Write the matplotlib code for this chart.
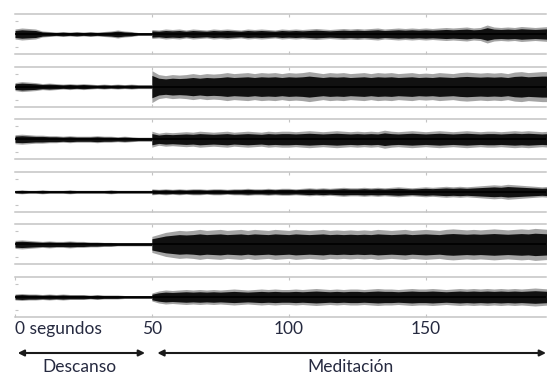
import numpy as np
import matplotlib
matplotlib.use('Agg')
import matplotlib.pyplot as plt

# envelope amplitude of each EEG trace
# rest: t = 0 .. 50 s every 2.5 s, meditation: t = 50 .. 195 s every 2.5 s
t_rest = np.arange(0, 50.1, 2.5)
t_med = np.arange(50, 195.1, 2.5)

rest_1 = [5, 6, 5.5, 5, 3, 2.5, 2, 2.5, 2, 2.5, 2, 2.5, 2, 2.5, 3, 4, 3, 2.5, 1.5, 1.5, 1.5]
med_1 = [4.5, 4, 5, 4.5, 5, 4, 5, 4.5, 4, 5,
         4.5, 5, 4.5, 4, 5, 4.5, 5, 4.5, 4, 5,
         4.5, 5, 4.5, 5, 5.5, 5, 4.5, 5, 5.5, 5,
         5.5, 5, 5.5, 6, 5, 5.5, 6, 5.5, 6, 5.5,
         6, 5.5, 6, 6.5, 6, 6.5, 7, 6, 6.5, 9,
         7, 6.5, 7, 6.5, 7.5, 7, 6.5, 7, 7.5]

rest_2 = [4, 5, 4.5, 4, 3, 3.5, 3, 2.5, 3, 2.5, 3, 2.5, 2, 2.5, 2, 2.5, 2, 2.5, 2, 2, 2]
med_2 = [16, 12, 11, 12, 11.5, 12, 13, 12, 13, 12.5,
         13, 14, 13, 13.5, 14, 13, 14, 13.5, 14, 13,
         14, 13.5, 14, 15, 14, 13, 14, 13.5, 14, 13,
         13.5, 14, 13, 14, 13.5, 14, 13, 13.5, 14, 13,
         13.5, 13, 14, 13.5, 13, 14, 14.5, 14, 13.5, 14,
         13.5, 14, 13, 14.5, 15, 14, 14.5, 15, 15]

rest_3 = [4.5, 5, 4.5, 4, 4, 3.5, 3.5, 3, 3.5, 3, 3, 3, 3.5, 3, 3, 2.5, 3, 2.5, 2, 2, 2]
med_3 = [8, 6, 7, 6.5, 7, 7.5, 7, 8, 7.5, 7,
         7.5, 8, 7, 7.5, 8, 7.5, 7, 8, 7.5, 8,
         8, 7.5, 8, 8.5, 8, 7.5, 8, 8.5, 8, 7.5,
         8, 7.5, 8, 7.5, 9, 8, 7.5, 8, 8.5, 8,
         7.5, 8, 8.5, 8, 7.5, 8, 8.5, 8, 7.5, 8,
         8, 7.5, 8, 8.5, 8, 8.5, 8, 7.5, 8]

rest_4 = [1.5, 2, 1.5, 1.5, 2, 1.5, 1.5, 1.5, 2, 1.5, 1.5, 1.5, 1.5, 1.5, 2, 1.5, 1.5, 1.5, 1.5, 1.5, 1.5]
med_4 = [3, 2.5, 3, 2.5, 3, 2.5, 3, 3, 2.5, 3,
         3, 2.5, 3, 3, 3.5, 3, 3, 3.5, 3, 3.5,
         3.5, 3, 3.5, 4, 3.5, 4, 3.5, 4, 4.5, 4,
         4, 4.5, 4, 4.5, 4, 4.5, 5, 4.5, 4, 4.5,
         5, 4.5, 5, 5.5, 5, 5.5, 5, 5.5, 6, 6.5,
         7, 6.5, 7.5, 7, 6.5, 6, 5.5, 5, 5.5]

rest_5 = [4, 4.5, 4, 3.5, 3, 3.5, 3, 3, 3.5, 3, 3, 2.5, 2.5, 2, 2, 1.5, 1.5, 1.5, 1.5, 1.5, 1.5]
med_5 = [8, 10, 12, 13, 14, 13.5, 14, 15, 14, 14.5,
         15, 14, 14.5, 15, 14, 15, 14.5, 14, 15, 14.5,
         14, 15, 14.5, 14, 14.5, 15, 14, 14.5, 14, 14.5,
         14, 14.5, 14, 15, 14.5, 14, 14.5, 15, 14, 14.5,
         15, 14.5, 14, 15, 15.5, 15, 14.5, 15, 14.5, 15,
         15.5, 15, 14.5, 15, 15.5, 15, 16, 15.5, 15]

rest_6 = [3, 3.5, 3, 3, 2.5, 3, 2.5, 3, 2.5, 2.5, 2.5, 2, 2.5, 2, 2, 2, 1.5, 1.5, 1.5, 1.5, 1.5]
med_6 = [4, 6, 7, 6.5, 7, 7.5, 7, 7.5, 7, 7.5,
         7, 7.5, 8, 7.5, 7, 7.5, 8, 7.5, 8, 7.5,
         7.5, 8, 7.5, 8, 8.5, 8, 7.5, 8, 7.5, 8,
         8, 7.5, 8, 8.5, 8, 8, 7.5, 8, 8.5, 8,
         8, 8.5, 8, 7.5, 8, 8.5, 8, 8.5, 8, 8.5,
         8, 8.5, 8, 8.5, 8, 8.5, 9, 8.5, 8]

traces = [(rest_1, med_1), (rest_2, med_2), (rest_3, med_3),
          (rest_4, med_4), (rest_5, med_5), (rest_6, med_6)]

tick_pos = [0, 50, 100, 150]
tick_lab = ['0 segundos', '50', '100', '150']

plt.rcParams['font.family'] = ['Lato', 'DejaVu Sans']
txt_col = '#262a40'
grey = '#c4c4c4'

W, H = 548, 376
fig = plt.figure(figsize=(W / 100, H / 100), dpi=100)

left, right = 15, 546
axes = []
for i, (r, m) in enumerate(traces):
    top = 14 + 52.6 * i
    ax = fig.add_axes([left / W, 1 - (top + 40) / H, (right - left) / W, 40 / H])
    for tt, amp in ((t_rest, np.array(r)), (t_med, np.array(m))):
        ax.fill_between(tt, -amp, amp, color='#4a4a4a', lw=0, alpha=0.5)
        ax.fill_between(tt, -0.7 * amp, 0.7 * amp, color='#111111', lw=0)
    ax.plot([0, 194], [0, 0], color='black', lw=1.2)
    ax.set_xlim(0, 194)
    ax.set_ylim(-20, 20)
    for s in ('left', 'right'):
        ax.spines[s].set_visible(False)
    for s in ('top', 'bottom'):
        ax.spines[s].set_color(grey)
        ax.spines[s].set_linewidth(1.1)
    ax.set_xticks(tick_pos[1:])
    ax.set_yticks([-13, 13])
    ax.tick_params(axis='both', direction='in', length=2.5, width=0.8,
                   color=grey, top=True, bottom=True, labelleft=False,
                   labelbottom=False)
    axes.append(ax)

ax = axes[-1]
ax.set_xticks(tick_pos)
ax.set_xticklabels(tick_lab)
ax.tick_params(axis='x', labelbottom=True, labelsize=12.5, labelcolor=txt_col, pad=3)
ax.get_xticklabels()[0].set_ha('left')

tr = ax.get_xaxis_transform()
arrow = dict(arrowstyle='<|-|>', color='#1a1a1a', lw=1.5, mutation_scale=9,
             shrinkA=0, shrinkB=0)
ax.annotate('', xy=(1, -0.9), xytext=(47.5, -0.9), xycoords=tr, textcoords=tr,
            arrowprops=arrow, annotation_clip=False)
ax.annotate('', xy=(52, -0.9), xytext=(194, -0.9), xycoords=tr, textcoords=tr,
            arrowprops=arrow, annotation_clip=False)
ax.text(23.7, -1.26, 'Descanso', transform=tr, ha='center', va='center',
        fontsize=12.5, color=txt_col)
ax.text(122.6, -1.24, 'Meditación', transform=tr, ha='center', va='center',
        fontsize=12.5, color=txt_col)

fig.savefig('out.png', dpi=100)
